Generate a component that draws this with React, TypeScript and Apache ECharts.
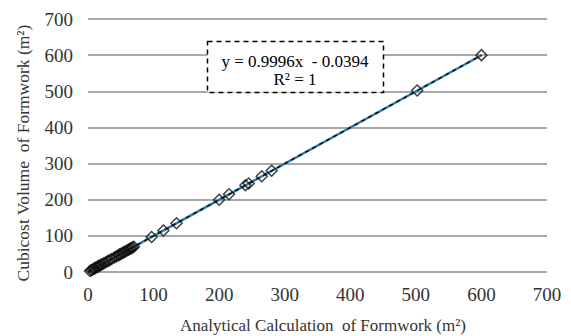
import React, { useEffect, useRef } from "react";
import * as echarts from "echarts";

const analytical = [3, 5, 7, 9, 10, 12, 14, 15, 17, 19, 21, 24, 27, 30, 33, 36, 40, 43, 46, 48, 50, 53, 55, 57, 60, 62, 64, 66, 68, 70, 97, 115, 135, 200, 215, 240, 245, 265, 280, 502, 600];
const cubicost = [3, 5, 7, 9, 10, 12, 14, 15, 17, 19, 21, 24, 27, 30, 33, 36, 40, 43, 46, 48, 50, 53, 55, 57, 60, 62, 64, 66, 68, 70, 97, 115, 135, 200, 215, 240, 245, 265, 280, 502, 600];
const trendX = [0, 600];
const trendY = [-0.04, 599.72];
const axisTicks = [0, 100, 200, 300, 400, 500, 600, 700];

const FONT = "Liberation Serif";

export default function App() {
  const ref = useRef<HTMLDivElement>(null);
  useEffect(() => {
    if (!ref.current) return;
    const chart = echarts.init(ref.current, undefined, { renderer: "svg" });
    const pts = analytical.map((x, i) => [x, cubicost[i]]);
    const trend = trendX.map((x, i) => [x, trendY[i]]);
    chart.setOption({
      animation: false,
      backgroundColor: "#fff",
      textStyle: { fontFamily: FONT },
      grid: { left: 88, right: 24, top: 19, bottom: 64 },
      xAxis: {
        type: "value",
        min: axisTicks[0],
        max: axisTicks[axisTicks.length - 1],
        interval: 100,
        axisLine: { show: false },
        axisTick: { show: false },
        splitLine: { show: false },
        axisLabel: { fontFamily: FONT, fontSize: 19, color: "#333", margin: 13 },
      },
      yAxis: {
        type: "value",
        min: axisTicks[0],
        max: axisTicks[axisTicks.length - 1],
        interval: 100,
        axisLine: { show: false },
        axisTick: { show: false },
        splitLine: { show: true, lineStyle: { color: "#8c8c8c", width: 1.5 } },
        axisLabel: { fontFamily: FONT, fontSize: 19, color: "#333", margin: 15 },
      },
      series: [
        {
          type: "line",
          data: trend,
          symbol: "none",
          lineStyle: { color: "#2a7fa8", width: 2.5 },
          z: 2,
        },
        {
          type: "line",
          data: trend,
          symbol: "none",
          lineStyle: { color: "#111", width: 1.5, type: [4, 4] },
          z: 3,
        },
        {
          type: "scatter",
          data: pts,
          symbol: "diamond",
          symbolSize: 11,
          itemStyle: { color: "rgba(255,255,255,0)", borderColor: "#111", borderWidth: 1.5 },
          z: 4,
        },
      ],
      graphic: [
        {
          type: "rect",
          shape: { x: 207.5, y: 41.5, width: 176, height: 51 },
          style: { fill: "#fff", stroke: "#000", lineWidth: 1.5, lineDash: [5, 4] },
          z: 10,
        },
        {
          type: "text",
          x: 295,
          y: 61,
          style: { text: "y = 0.9996x  - 0.0394", fontFamily: FONT, fontSize: 17, fill: "#000", align: "center", verticalAlign: "middle" },
          z: 11,
        },
        {
          type: "text",
          x: 295,
          y: 79,
          style: { text: "R² = 1", fontFamily: FONT, fontSize: 17, fill: "#000", align: "center", verticalAlign: "middle" },
          z: 11,
        },
        {
          type: "text",
          x: 323,
          y: 325,
          style: { text: "Analytical Calculation  of Formwork (m²)", fontFamily: FONT, fontSize: 17, fill: "#333", align: "center", verticalAlign: "middle" },
          z: 11,
        },
        {
          type: "text",
          x: 23,
          y: 153,
          rotation: Math.PI / 2,
          style: { text: "Cubicost Volume  of Formwork (m²)", fontFamily: FONT, fontSize: 17.5, fill: "#333", align: "center", verticalAlign: "middle" },
          z: 11,
        },
      ],
    });
    return () => chart.dispose();
  }, []);
  return <div ref={ref} style={{ width: 571, height: 336, position: "absolute", left: 0, top: 0 }} />;
}
